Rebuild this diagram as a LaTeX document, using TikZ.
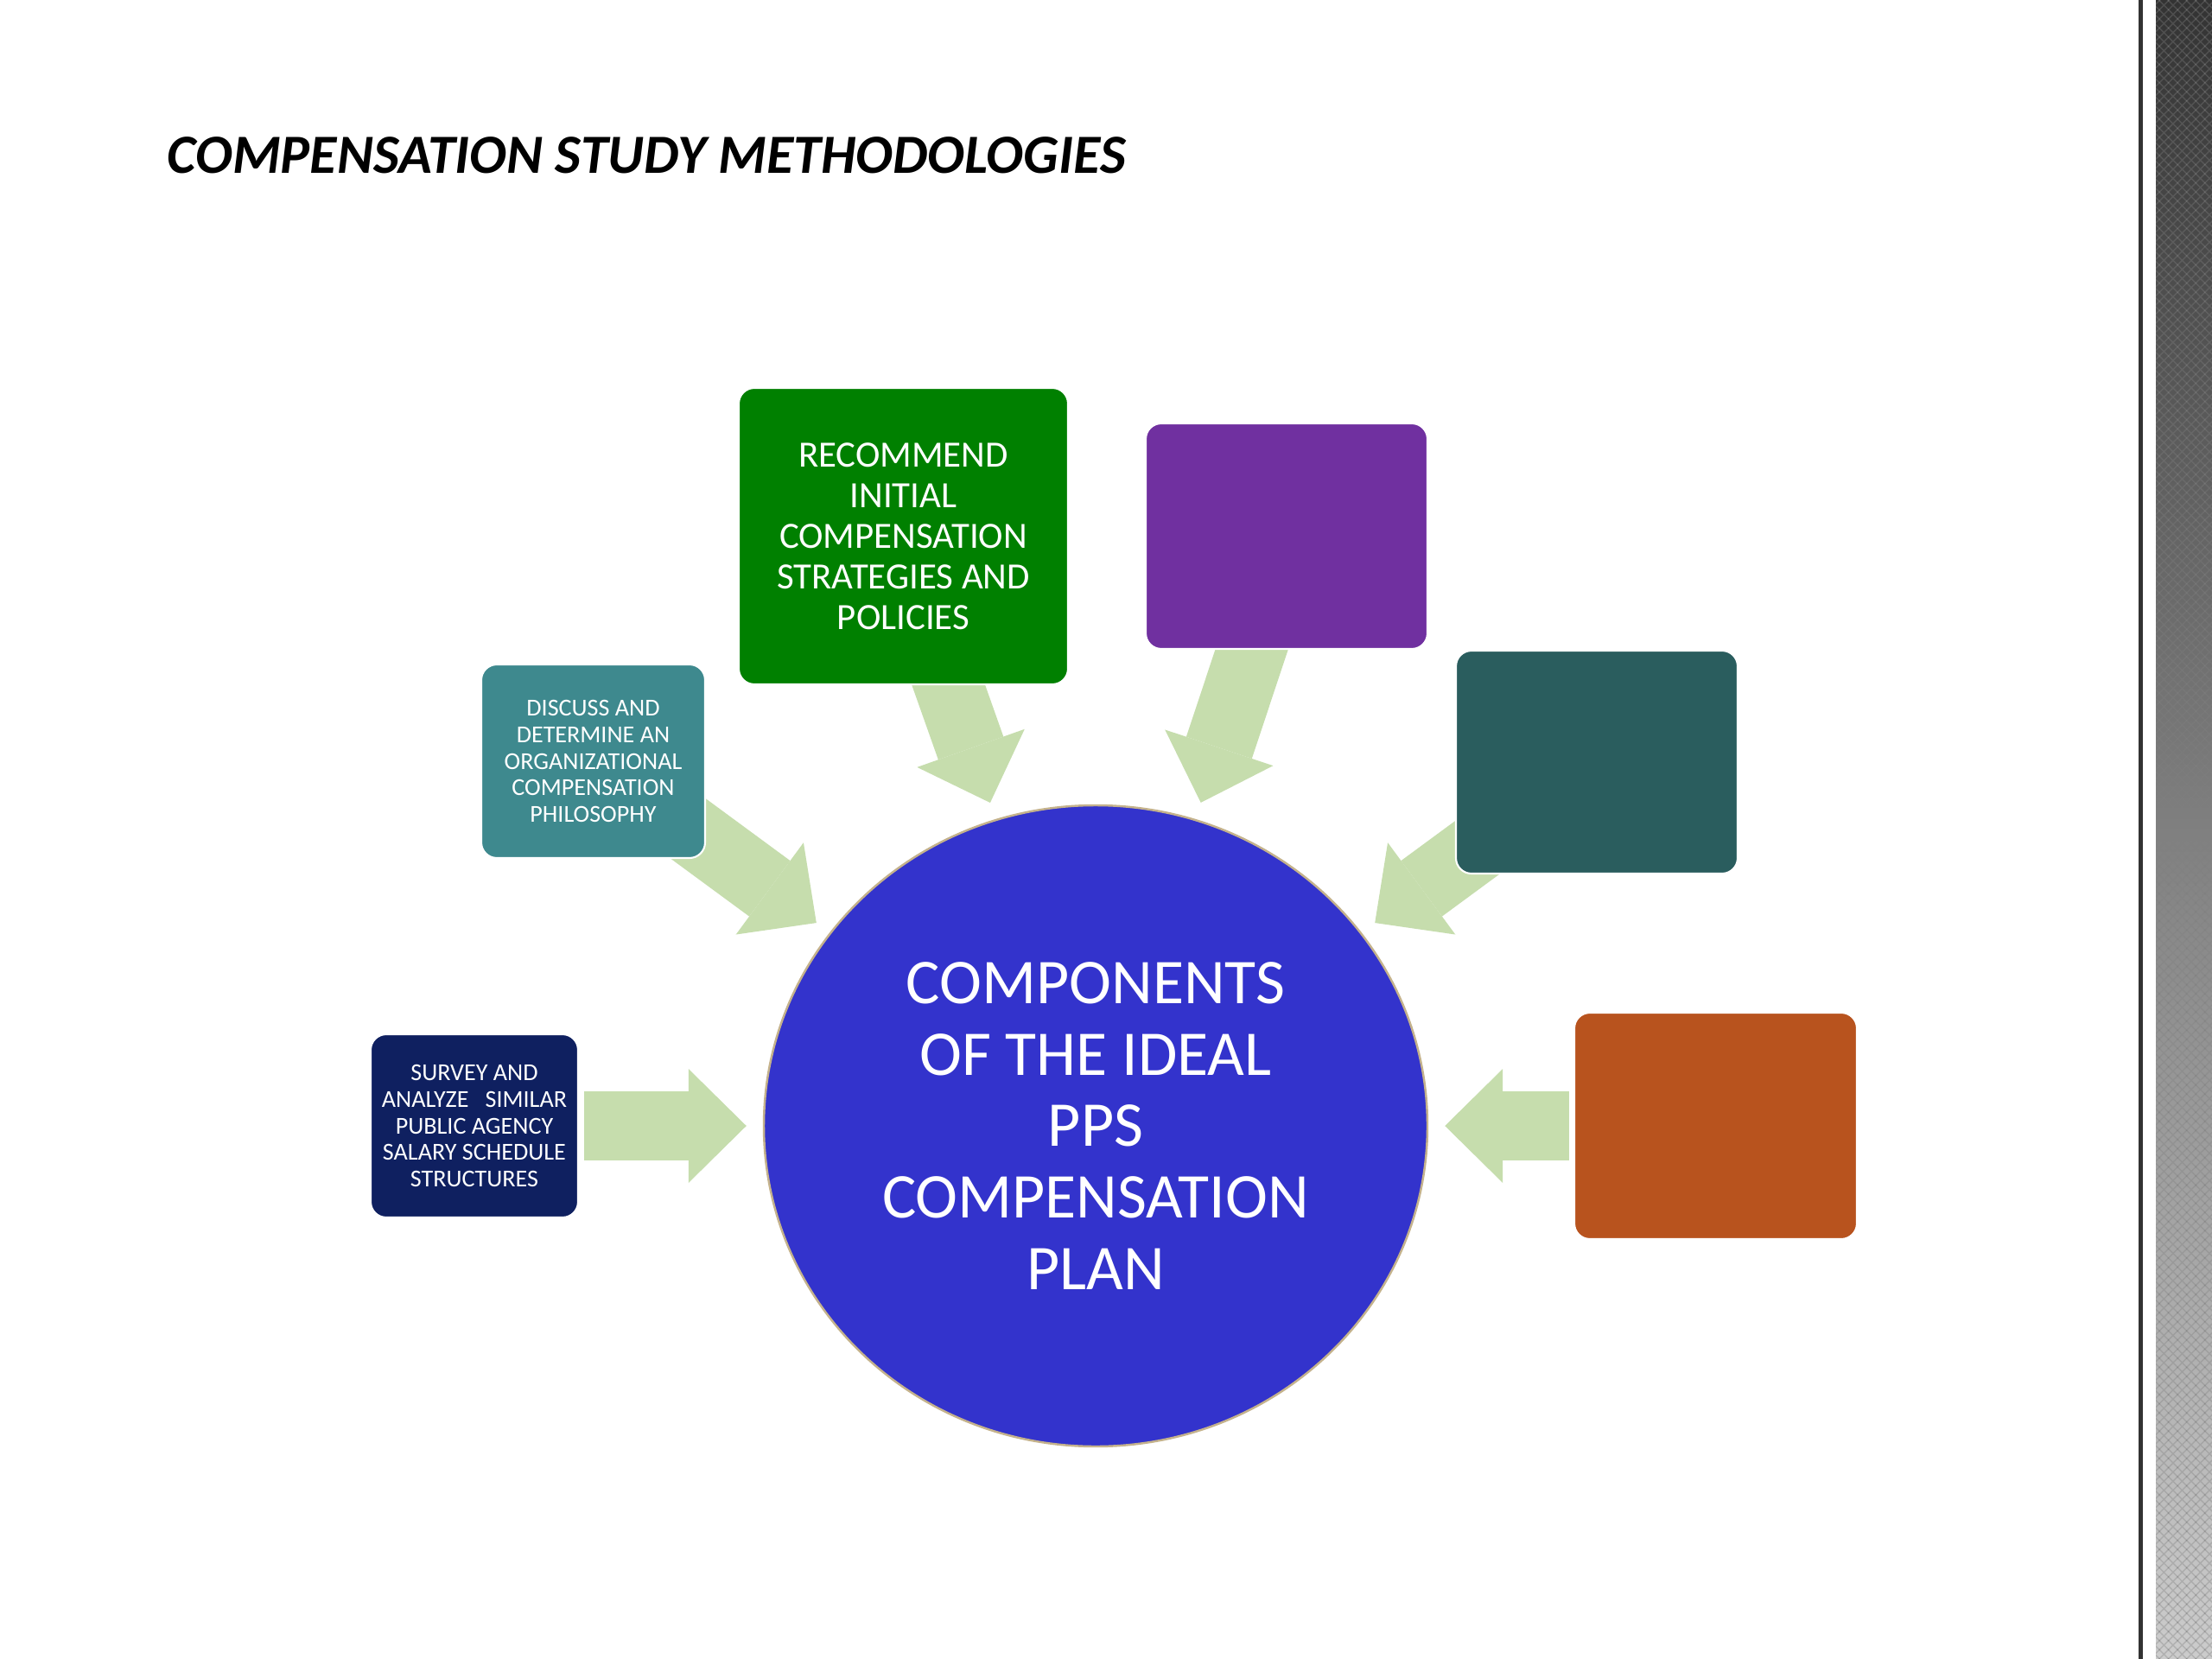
\documentclass[tikz,border=0pt]{standalone}
\usepackage{fontspec}
\setmainfont{Carlito}
\usetikzlibrary{arrows.meta,shapes.geometric,backgrounds,patterns}

\definecolor{navybox}{RGB}{15,32,96}
\definecolor{tealbox}{RGB}{62,137,142}
\definecolor{greenbox}{RGB}{0,128,0}
\definecolor{purplebox}{RGB}{112,48,160}
\definecolor{darkteal}{RGB}{42,93,94}
\definecolor{orangebox}{RGB}{184,83,30}
\definecolor{arrowgreen}{RGB}{198,221,173}
\definecolor{planblue}{RGB}{51,51,204}
\definecolor{plantan}{RGB}{196,178,140}

\begin{document}
\begin{tikzpicture}

\def\shaft{0.8cm}
\def\headw{1.32cm}
\def\headl{0.67cm}

\tikzset{
    stepbox/.style={
        draw=white,
        line width=0.6pt,
        rounded corners=0.18cm,
        text=white,
        inner sep=0pt,
        align=center
    },
    smalltxt/.style={font=\fontsize{8}{8.8}\selectfont},
    flow/.style={
        draw=arrowgreen,
        line width=\shaft,
        -{Triangle[length=\headl,width=\headw,line width=0pt]}
    }
}

\useasboundingbox (0,0) rectangle (25.6,-19.2);

% Title
\node[anchor=west, inner sep=0pt, font=\fontsize{18.2}{21}\selectfont\bfseries\itshape]
    (title) at (1.93,-1.80) {COMPENSATION STUDY METHODOLOGIES};

% Centre
\node[ellipse, minimum width=7.68cm, minimum height=7.42cm, inner sep=0pt,
      fill=planblue, draw=plantan, line width=0.7pt, text=white, align=center,
      font=\fontsize{21}{23.6}\selectfont]
    (circ) at (12.68,-13.03)
    {COMPONENTS\\OF THE IDEAL\\PPS\\COMPENSATION\\PLAN};

% Boxes, left side
\node[stepbox, smalltxt, fill=navybox, minimum width=2.40cm, minimum height=2.12cm]
    (survey) at (5.49,-13.03)
    {SURVEY AND\\ANALYZE\ \ \ SIMILAR\\PUBLIC AGENCY\\SALARY SCHEDULE\\STRUCTURES};

\node[stepbox, smalltxt, fill=tealbox, minimum width=2.59cm, minimum height=2.24cm]
    (discuss) at (6.865,-8.81)
    {DISCUSS AND\\DETERMINE AN\\ORGANIZATIONAL\\COMPENSATION\\PHILOSOPHY};

\node[stepbox, fill=greenbox, minimum width=3.81cm, minimum height=3.43cm,
      font=\fontsize{12.2}{13.4}\selectfont]
    (recommend) at (10.455,-6.205)
    {RECOMMEND\\INITIAL\\COMPENSATION\\STRATEGIES AND\\POLICIES};

% Boxes, right side
\node[stepbox, fill=purplebox, minimum width=3.26cm, minimum height=2.61cm]
    (purple) at (14.89,-6.205) {};

\node[stepbox, fill=darkteal, minimum width=3.26cm, minimum height=2.58cm]
    (teal) at (18.48,-8.82) {};

\node[stepbox, fill=orangebox, minimum width=3.27cm, minimum height=2.62cm]
    (orange) at (19.855,-13.03) {};

% Arrows
\begin{scope}[on background layer]
\fill[white] (0,0) rectangle (25.6,-19.2);
\draw[flow, shorten <=0.06cm, shorten >=0.19cm] (survey.east) -- (circ.west);
\draw[flow, shorten <=0.05cm, shorten >=0.19cm] (orange.west) -- (circ.east);
\draw[flow, shorten >=0.19cm] ([shift={(-0.49,0.56)}]discuss.south east) -- (circ.144);
\draw[flow, shorten >=0.20cm] ([shift={(0.445,0.22)}]recommend.south) -- (circ.108);
\draw[flow, shorten >=0.20cm] ([shift={(-0.335,0.21)}]purple.south) -- (circ.72);
\draw[flow, shorten >=0.19cm] ([shift={(0.50,0.49)}]teal.south west) -- (circ.36);
\end{scope}

% Right edge
\draw[line width=0.05cm, black!80] (24.775,0) -- (24.775,-19.2);
\shade[top color=black!80, middle color=black, bottom color=black!20]
    (24.95,0) rectangle (25.6,-19.2);
\fill[pattern=crosshatch, pattern color=gray, opacity=0.35]
    (24.95,0) rectangle (25.6,-19.2);

\end{tikzpicture}
\end{document}
